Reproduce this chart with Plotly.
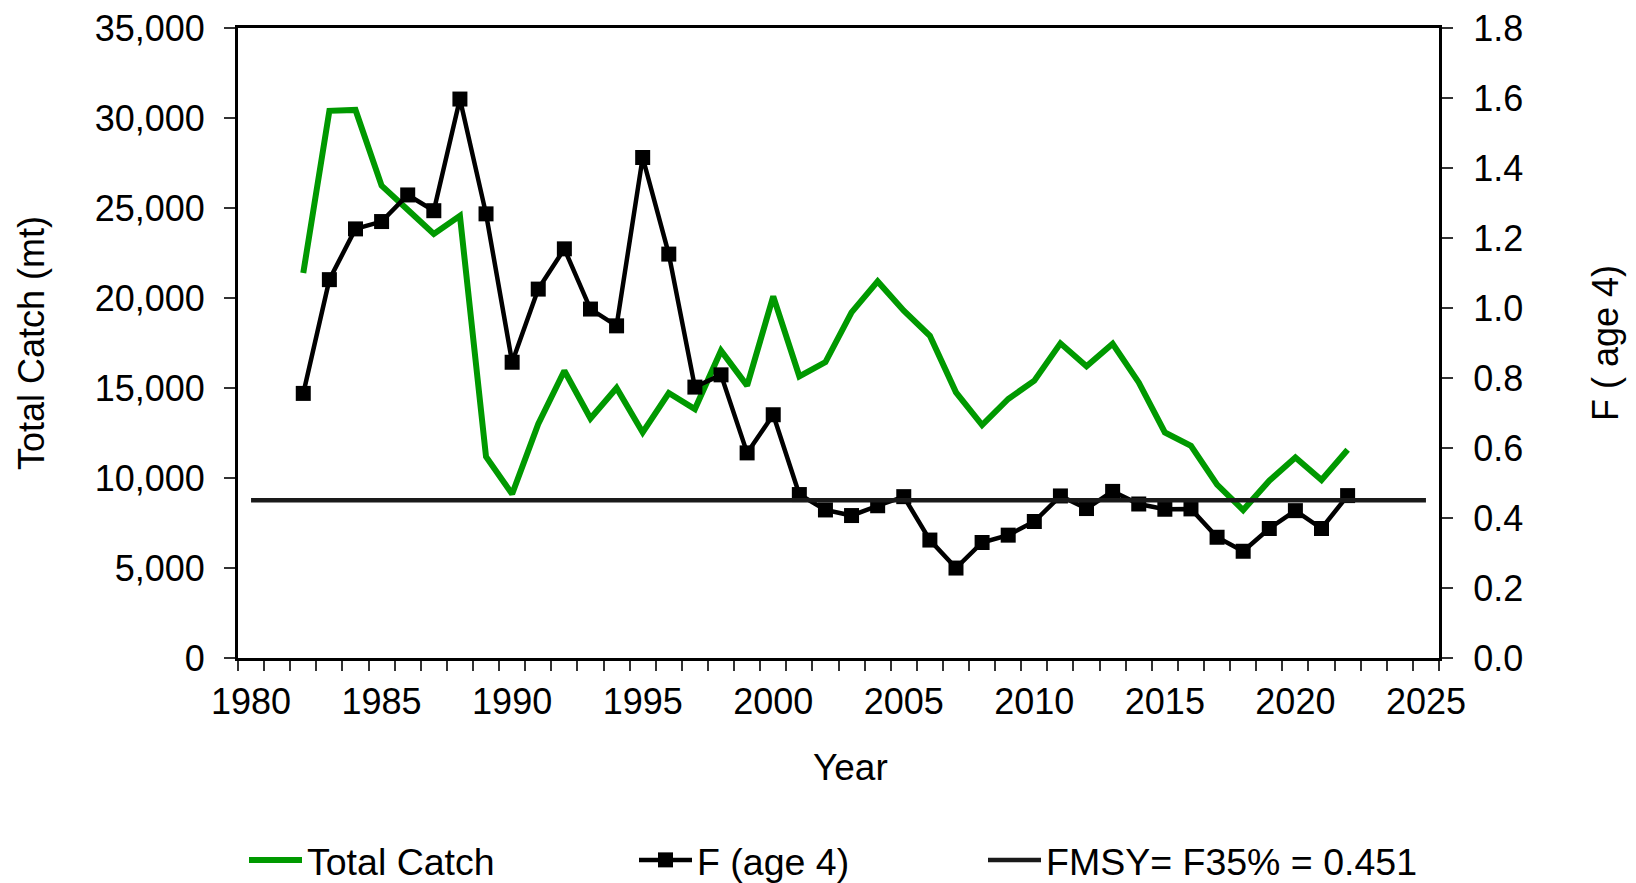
import plotly.graph_objects as go

# ---- data ----
years = list(range(1982, 2023))
total_catch = [21390, 30400, 30450, 26240, 24900, 23560, 24570, 11180, 9110, 13000,
               15960, 13310, 15000, 12530, 14720, 13830, 17070, 15130, 20090, 15650,
               16440, 19200, 20920, 19290, 17900, 14760, 12940, 14390, 15410, 17480,
               16210, 17460, 15310, 12530, 11790, 9630, 8220, 9850, 11140, 9890, 11570]
f_age4 = [0.756, 1.081, 1.226, 1.247, 1.323, 1.278, 1.597, 1.269, 0.845, 1.054,
          1.169, 0.997, 0.949, 1.430, 1.154, 0.774, 0.809, 0.586, 0.695, 0.467,
          0.423, 0.407, 0.435, 0.461, 0.337, 0.257, 0.330, 0.351, 0.390, 0.463,
          0.427, 0.476, 0.440, 0.425, 0.426, 0.345, 0.305, 0.370, 0.421, 0.370, 0.464]
fmsy_years = list(range(1980, 2026))
fmsy_value = 0.451
fmsy = [fmsy_value for _ in fmsy_years]
x_ticks = list(range(1980, 2026, 5))
left_ticks = list(range(0, 35001, 5000))
right_ticks = [round(0.2 * i, 1) for i in range(10)]

FONT = "Liberation Sans, Arial, sans-serif"
FS = 36
LFS = 37.5

fig = go.Figure()
fig.add_trace(go.Scatter(
    x=years, y=total_catch, name="Total Catch", mode="lines",
    line=dict(color="#009900", width=6), yaxis="y", legend="legend"))
fig.add_trace(go.Scatter(
    x=years, y=f_age4, name="F (age 4)", mode="lines+markers",
    line=dict(color="#000000", width=4.5),
    marker=dict(symbol="square", size=15, color="#000000"),
    yaxis="y2", legend="legend2"))
fig.add_trace(go.Scatter(
    x=fmsy_years, y=fmsy, name="FMSY= F35% = 0.451", mode="lines",
    line=dict(color="#1a1a1a", width=4.5), yaxis="y2", legend="legend3"))

legend_common = dict(orientation="h", xref="container", yref="container",
                     yanchor="middle", xanchor="left", y=1 - 860 / 883,
                     font=dict(family=FONT, size=LFS, color="#000"),
                     bgcolor="rgba(0,0,0,0)", itemwidth=53)

fig.update_layout(
    width=1636, height=883, autosize=False,
    margin=dict(l=238, r=197, t=28, b=225, pad=0, autoexpand=False),
    paper_bgcolor="white", plot_bgcolor="white",
    font=dict(family=FONT, size=FS, color="#000"),
    xaxis=dict(
        range=[1979.5, 2025.5], tickvals=x_ticks, ticktext=[str(v) for v in x_ticks],
        ticks="", showgrid=False, zeroline=False,
        showline=True, linecolor="#000", linewidth=3, mirror=True,
        minor=dict(ticks="outside", tick0=1979.5, dtick=1, ticklen=10,
                   tickwidth=1.5, tickcolor="#333", showgrid=False),
        ticklabelstandoff=10,
        tickfont=dict(family=FONT, size=FS)),
    yaxis=dict(
        range=[0, 35000], tickvals=left_ticks, tickformat=",d",
        ticks="outside", ticklen=11, tickwidth=1.5, tickcolor="#333",
        showgrid=False, zeroline=False,
        showline=True, linecolor="#000", linewidth=3,
        ticklabelstandoff=12,
        tickfont=dict(family=FONT, size=FS),
        title=dict(text="Total Catch (mt)", font=dict(family=FONT, size=FS), standoff=40)),
    yaxis2=dict(
        range=[0, 1.8], tickvals=right_ticks, tickformat=".1f",
        overlaying="y", side="right",
        ticks="outside", ticklen=11, tickwidth=1.5, tickcolor="#333",
        showgrid=False, zeroline=False,
        showline=True, linecolor="#000", linewidth=3,
        ticklabelstandoff=13,
        tickfont=dict(family=FONT, size=FS),
        title=dict(text="F ( age 4)", font=dict(family=FONT, size=FS), standoff=71)),
    legend=dict(legend_common, x=244 / 1636),
    legend2=dict(legend_common, x=634 / 1636),
    legend3=dict(legend_common, x=983 / 1636),
    showlegend=True,
    annotations=[dict(text="Year", xref="paper", yref="paper",
                      x=(850 - 238) / 1201, y=(658 - 767) / 630,
                      xanchor="center", yanchor="middle", showarrow=False,
                      font=dict(family=FONT, size=37, color="#000"))],
)

fig.write_html("out.html", config={"displayModeBar": False},
               post_script="document.body.style.margin='0px';document.body.style.overflow='hidden';")
